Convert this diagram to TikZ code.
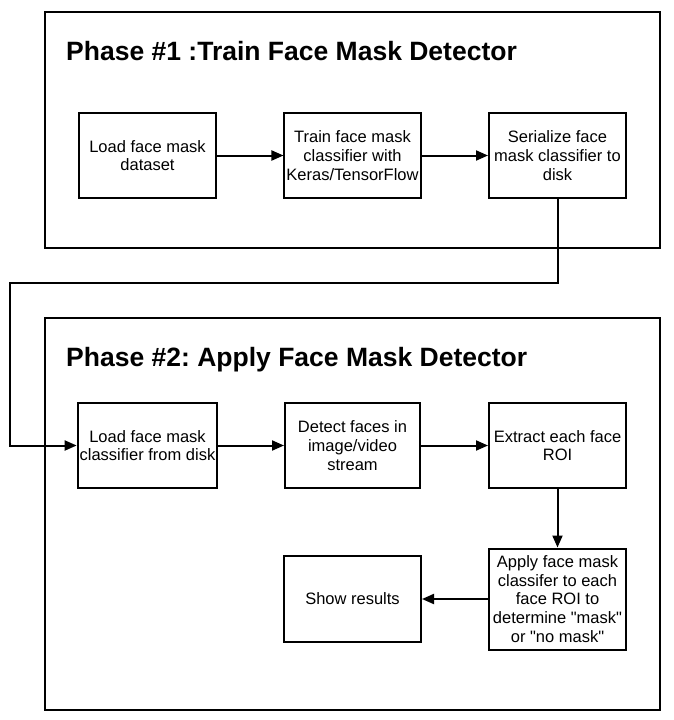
\documentclass[tikz,border=0pt]{standalone}
\usepackage{fontspec}
\setmainfont{Liberation Sans}
\usetikzlibrary{arrows.meta}
\frenchspacing
\begin{document}
\begin{tikzpicture}[x=1pt,y=-1pt,
  phasebox/.style={draw=black,line width=2.2pt,minimum width=615pt,inner sep=0pt},
  stepbox/.style={draw=black,line width=2pt,minimum width=137pt,minimum height=85pt,align=center,inner sep=2pt,
    font=\fontsize{16.5pt}{18.7pt}\selectfont},
  titletext/.style={anchor=base west,inner sep=0pt,font=\fontsize{26.5pt}{30pt}\selectfont\bfseries},
  arr/.style={draw=black,line width=2pt,-{Triangle[length=12pt,width=10pt]}}]
\useasboundingbox (0,0) rectangle (674,720);
\fill[white] (0,0) rectangle (674,720);
% phase frames
\node[phasebox,minimum height=236pt] (ph1) at (352.5,130) {};
\node[phasebox,minimum height=392pt] (ph2) at (352.5,514) {};
\node[titletext] (t1) at (66,60) {Phase \#1 :Train Face Mask Detector};
\node[titletext] (t2) at (66,366) {Phase \#2: Apply Face Mask Detector};
% phase 1 steps
\node[stepbox] (a1) at (147.5,155.5) {Load face mask\\dataset};
\node[stepbox,minimum width=135pt] (a2) at (352.5,155.5) {Train face mask\\classifier with\\Keras/TensorFlow};
\node[stepbox] (a3) at (557.5,155.5) {Serialize face\\mask classifier to\\disk};
% phase 2 steps
\node[stepbox] (b1) at (147.5,445.5) {Load face mask\\classifier from disk};
\node[stepbox,minimum width=135pt] (b2) at (352.5,445.5) {Detect faces in\\image/video\\stream};
\node[stepbox] (b3) at (557.5,445.5) {Extract each face\\ROI};
\node[stepbox,minimum height=101pt] (b4) at (557.5,599) {Apply face mask\\classifer to each\\face ROI to\\determine \textquotedbl mask\textquotedbl\\or \textquotedbl no mask\textquotedbl};
\node[stepbox,minimum height=86pt] (b5) at (352.5,599) {Show results};
% connectors
\coordinate (c1) at (557.5,283);
\coordinate (c2) at (10,283);
\coordinate (c3) at (10,445.5);
\draw[arr] (a1) -- (a2);
\draw[arr] (a2) -- (a3);
\draw[arr] (a3.south) -- (c1) -- (c2) -- (c3) -- (b1.west);
\draw[arr] (b1) -- (b2);
\draw[arr] (b2) -- (b3);
\draw[arr] (b3) -- (b4);
\draw[arr] (b4) -- (b5);
\end{tikzpicture}
\end{document}
